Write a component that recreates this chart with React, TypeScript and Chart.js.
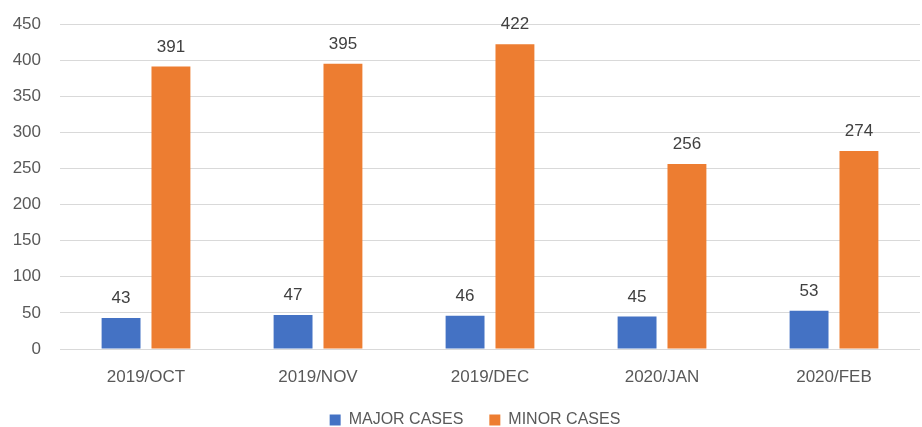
import React, { useEffect, useRef } from "react";
import { Chart, registerables } from "chart.js";

Chart.register(...registerables);

const categories = ["2019/OCT", "2019/NOV", "2019/DEC", "2020/JAN", "2020/FEB"];
const majorCases = [43, 47, 46, 45, 53];
const minorCases = [391, 395, 422, 256, 274];
const yTicks = [0, 50, 100, 150, 200, 250, 300, 350, 400, 450];

const FONT = "'Liberation Sans', 'DejaVu Sans', sans-serif";
const LEGEND_HEIGHT = 41;
const LEGEND_SHIFT = 15;

const valueLabels = {
  id: "valueLabels",
  afterDatasetsDraw(chart: any) {
    const ctx = chart.ctx;
    ctx.save();
    ctx.font = `17px ${FONT}`;
    ctx.fillStyle = "#404040";
    ctx.textAlign = "center";
    ctx.textBaseline = "alphabetic";
    chart.data.datasets.forEach((ds: any, i: number) => {
      const meta = chart.getDatasetMeta(i);
      meta.data.forEach((bar: any, j: number) => {
        ctx.fillText(String(ds.data[j]), bar.x, bar.y - 15);
      });
    });
    ctx.restore();
  },
};

const legendFix = {
  id: "legendFix",
  beforeLayout(chart: any) {
    const lg = chart.legend;
    if (lg && !lg.__patched) {
      const orig = lg.fit.bind(lg);
      lg.fit = function () {
        orig();
        this.height = LEGEND_HEIGHT;
      };
      lg.__patched = true;
    }
  },
  afterLayout(chart: any) {
    const lg = chart.legend;
    if (lg) {
      lg.left += LEGEND_SHIFT;
      lg.right += LEGEND_SHIFT;
    }
  },
};

export default function App() {
  const ref = useRef<HTMLCanvasElement>(null);
  useEffect(() => {
    if (!ref.current) return;
    const chart = new Chart(ref.current, {
      type: "bar",
      data: {
        labels: categories,
        datasets: [
          {
            label: "MAJOR CASES",
            data: majorCases,
            backgroundColor: "#4472C4",
            categoryPercentage: 0.58,
            barPercentage: 0.78,
          },
          {
            label: "MINOR CASES",
            data: minorCases,
            backgroundColor: "#ED7D31",
            categoryPercentage: 0.58,
            barPercentage: 0.78,
          },
        ],
      },
      options: {
        animation: false,
        responsive: false,
        maintainAspectRatio: false,
        layout: { padding: { top: 24, right: 2, left: 0, bottom: 0 } },
        scales: {
          x: {
            grid: { display: false, drawTicks: false },
            border: { display: false },
            ticks: { color: "#595959", font: { family: FONT, size: 17 }, padding: 18 },
            afterFit: (axis: any) => {
              axis.height = 37;
              axis.paddingLeft = 0;
              axis.paddingRight = 0;
            },
          },
          y: {
            min: 0,
            max: 450,
            afterBuildTicks: (axis: any) => {
              axis.ticks = yTicks.map((v) => ({ value: v }));
            },
            afterFit: (axis: any) => {
              axis.width = 60;
              axis.paddingTop = 0;
              axis.paddingBottom = 0;
            },
            grid: { color: "#D9D9D9", lineWidth: 1, drawTicks: false },
            border: { display: false },
            ticks: { color: "#595959", font: { family: FONT, size: 17 }, padding: 19 },
          },
        },
        plugins: {
          legend: {
            position: "bottom",
            labels: {
              color: "#595959",
              font: { family: FONT, size: 16 },
              boxWidth: 11,
              boxHeight: 11,
              padding: 26,
            },
          },
          tooltip: { enabled: false },
        },
      },
      plugins: [legendFix, valueLabels],
    });
    return () => chart.destroy();
  }, []);
  return (
    <div style={{ position: "fixed", left: 0, top: 0, width: 922, height: 427, background: "#fff" }}>
      <canvas ref={ref} width={922} height={427} style={{ width: 922, height: 427 }} />
    </div>
  );
}
